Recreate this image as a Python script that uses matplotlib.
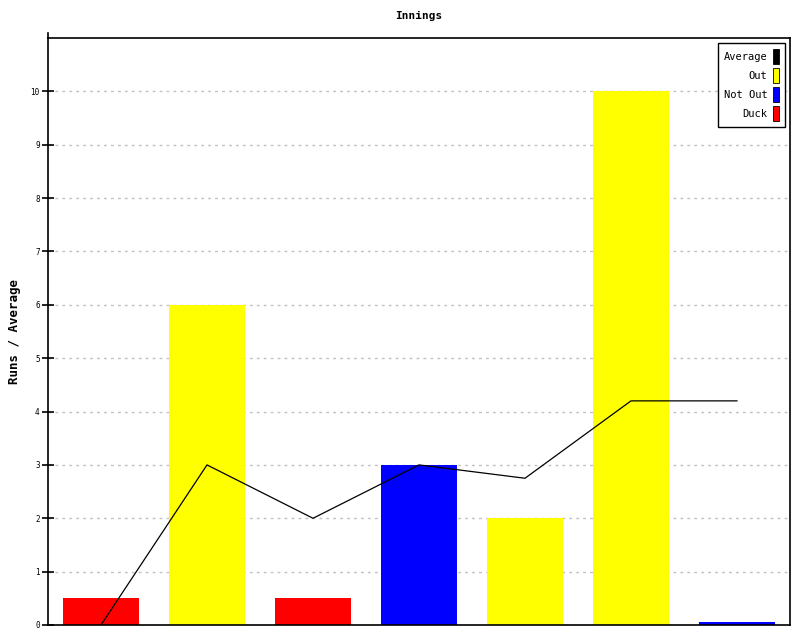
import matplotlib
matplotlib.use("Agg")
import matplotlib.pyplot as plt
from matplotlib.patches import Rectangle

innings = [1, 2, 3, 4, 5, 6, 7]
runs = [0.5, 6, 0.5, 3, 2, 10, 0.05]  # ducks drawn as 0.5
kinds = ["Duck", "Out", "Duck", "Not Out", "Out", "Out", "Not Out"]
average = [0, 3, 2, 3, 2.75, 4.2, 4.2]
yticks = [0, 1, 2, 3, 4, 5, 6, 7, 8, 9, 10]

colors = {"Average": "black", "Out": "yellow", "Not Out": "blue", "Duck": "red"}

plt.rcParams["font.family"] = "DejaVu Sans Mono"

fig = plt.figure(figsize=(8, 6.4), dpi=100)
ax = fig.add_axes([48 / 800, 15 / 640, 742 / 800, 587 / 640])

pos = list(range(len(innings)))
ax.bar(pos, runs, width=0.72, color=[colors[k] for k in kinds], zorder=2)
ax.plot(pos, average, color="black", linewidth=0.9, zorder=3)

ax.set_xlim(-0.5, len(innings) - 0.5)
ax.set_ylim(0, 11)
ax.set_xticks([])
ax.set_yticks(yticks)
ax.set_yticklabels([str(t) for t in yticks], fontsize=5.5)
ax.tick_params(axis="y", direction="inout", length=8, width=1.2, pad=2)
ax.grid(axis="y", color="#c0c0c0", linestyle=(0, (2, 3)), linewidth=1, zorder=0)

for s in ax.spines.values():
    s.set_linewidth(1.2)
# left axis pokes above the frame
ax.plot([0, 0], [1, 1.009], transform=ax.transAxes, color="black",
        linewidth=1.2, clip_on=False)

ax.set_title("Innings", fontsize=8, fontweight="bold", pad=14)
ax.set_ylabel("Runs / Average", fontsize=9, fontweight="bold")
ax.yaxis.set_label_coords(-0.036, 0.5)

labels = ["Average", "Out", "Not Out", "Duck"]
handles = [Rectangle((0, 0), 1, 1, facecolor=colors[l], edgecolor="black", linewidth=0.6)
           for l in labels]
leg = ax.legend(handles, labels, loc="upper right", markerfirst=False,
                fontsize=7.5, handlelength=0.55, handleheight=1.8,
                handletextpad=0.5, labelspacing=0.4, borderpad=0.6,
                fancybox=False, framealpha=1, edgecolor="black",
                borderaxespad=0.5)
leg.get_frame().set_linewidth(1)
for t in leg.get_texts():
    t.set_ha("right")

fig.savefig("out.png")
